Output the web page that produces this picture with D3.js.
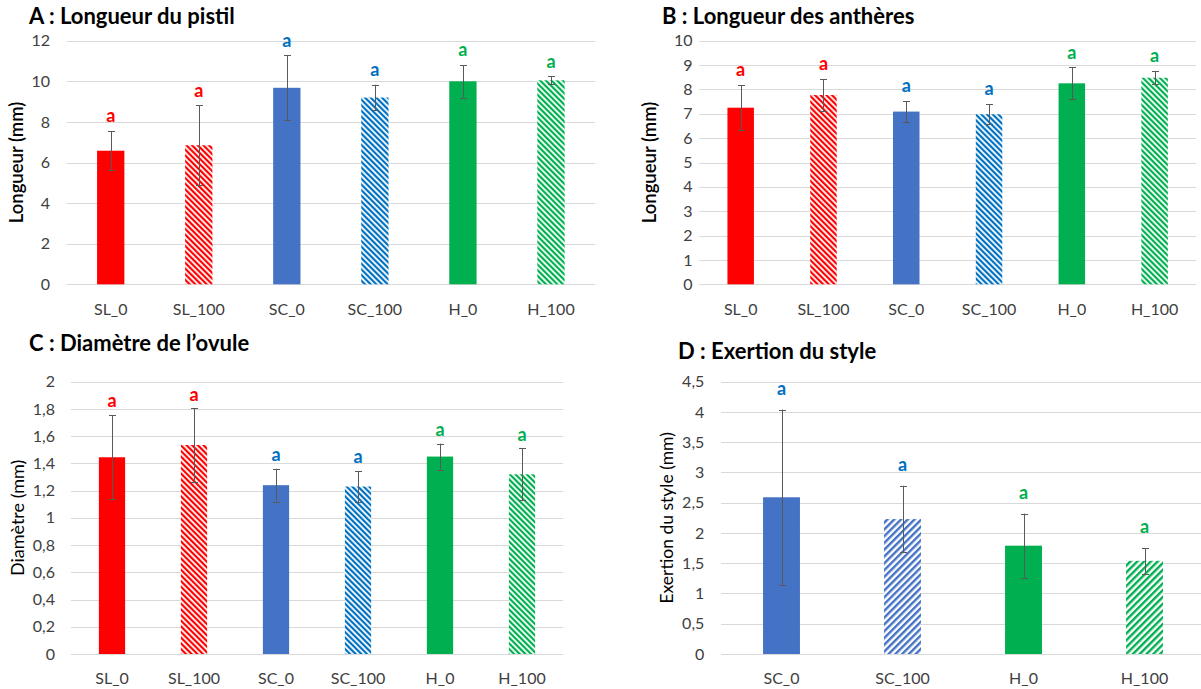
<!DOCTYPE html>
<html>
<head>
<meta charset="utf-8">
<script src="https://cdn.jsdelivr.net/npm/d3@7"></script>
<style>
  body { margin: 0; background: #fff; }
  svg { display: block; font-family: Lato, "Open Sans", sans-serif; }
</style>
</head>
<body>
<svg id="chart" width="1201" height="689"></svg>
<script>
// categories
var catsABC = ["SL_0", "SL_100", "SC_0", "SC_100", "H_0", "H_100"];
var catsD = ["SC_0", "SC_100", "H_0", "H_100"];

// A : longueur du pistil
var pistilMean = [6.58, 6.85, 9.68, 9.2, 10.0, 10.05];
var pistilErr = [0.97, 1.97, 1.6, 0.63, 0.8, 0.2];
var pistilLetters = ["a", "a", "a", "a", "a", "a"];
var pistilTicks = [0, 2, 4, 6, 8, 10, 12];

// B : longueur des antheres
var anthereMean = [7.25, 7.77, 7.09, 6.98, 8.25, 8.48];
var anthereErr = [0.93, 0.65, 0.43, 0.42, 0.66, 0.27];
var anthereLetters = ["a", "a", "a", "a", "a", "a"];
var anthereTicks = [0, 1, 2, 3, 4, 5, 6, 7, 8, 9, 10];

// C : diametre de l'ovule
var ovuleMean = [1.445, 1.535, 1.24, 1.23, 1.45, 1.32];
var ovuleErr = [0.31, 0.27, 0.12, 0.115, 0.095, 0.19];
var ovuleLetters = ["a", "a", "a", "a", "a", "a"];
var ovuleTicks = [0, 0.2, 0.4, 0.6, 0.8, 1, 1.2, 1.4, 1.6, 1.8, 2];

// D : exertion du style
var styleMean = [2.59, 2.23, 1.79, 1.54];
var styleErr = [1.45, 0.55, 0.53, 0.21];
var styleLetters = ["a", "a", "a", "a"];
var styleTicks = [0, 0.5, 1, 1.5, 2, 2.5, 3, 3.5, 4, 4.5];

// couleurs par categorie
var fillColor = {
  SL_0: "#FF0000", SL_100: "#FF0000",
  SC_0: "#4472C4", SC_100: "#0070C0",
  H_0: "#00B050", H_100: "#00B050"
};
var letterColor = {
  SL_0: "#FF0000", SL_100: "#FF0000",
  SC_0: "#0070C0", SC_100: "#0070C0",
  H_0: "#00B050", H_100: "#00B050"
};

var svg = d3.select("#chart");
var defs = svg.append("defs");

// motifs hachures
function makeHatch(id, color, period, sw, angle) {
  var p = defs.append("pattern")
    .attr("id", id)
    .attr("patternUnits", "userSpaceOnUse")
    .attr("width", period)
    .attr("height", period)
    .attr("patternTransform", "rotate(" + angle + ")");
  p.append("rect")
    .attr("width", period).attr("height", period)
    .attr("fill", "#fff");
  p.append("rect")
    .attr("x", 0).attr("y", 0)
    .attr("width", sw).attr("height", period)
    .attr("fill", color);
}
makeHatch("h-red", "#FF0000", 4, 2.2, -45);
makeHatch("h-blue", "#0070C0", 4, 2.2, -45);
makeHatch("h-green", "#00B050", 4, 2.2, -45);
makeHatch("hd-blue", "#4472C4", 4.8, 2.4, 45);
makeHatch("hd-green", "#00B050", 4.8, 2.4, 45);

var fmt = function(v) { return String(v).replace(".", ","); };

function drawPanel(cfg) {
  var g = svg.append("g");

  var x = d3.scaleBand()
    .domain(cfg.cats)
    .range([cfg.left, cfg.right])
    .paddingInner(cfg.pad)
    .paddingOuter(cfg.pad / 2);

  var y = d3.scaleLinear()
    .domain([0, d3.max(cfg.ticks)])
    .range([cfg.bottom, cfg.top]);

  // titre
  g.append("text")
    .attr("x", cfg.titleX).attr("y", cfg.titleY)
    .attr("font-size", 22).attr("font-weight", 700)
    .attr("fill", "#000")
    .text(cfg.title);

  // grille
  g.selectAll(".grid")
    .data(cfg.ticks)
    .enter().append("line")
    .attr("x1", cfg.left).attr("x2", cfg.gridRight)
    .attr("y1", function(d) { return Math.round(y(d)) + 0.5; })
    .attr("y2", function(d) { return Math.round(y(d)) + 0.5; })
    .attr("stroke", "#D9D9D9").attr("stroke-width", 1);

  // axe y
  var yAxis = d3.axisLeft(y).tickValues(cfg.ticks).tickFormat(fmt).tickSize(0).tickPadding(0);
  var ya = g.append("g")
    .attr("transform", "translate(" + cfg.labelRight + ",0)")
    .call(yAxis);
  ya.select(".domain").remove();
  ya.selectAll("text")
    .attr("font-family", "Lato, sans-serif")
    .attr("font-size", 16).attr("fill", "#404040");

  // axe x
  var xAxis = d3.axisBottom(x).tickSize(0).tickPadding(0);
  var xa = g.append("g")
    .attr("transform", "translate(0," + (cfg.bottom + 19) + ")")
    .call(xAxis);
  xa.select(".domain").remove();
  xa.selectAll("text")
    .attr("font-family", "Lato, sans-serif")
    .attr("font-size", 16).attr("fill", "#404040");

  // titre axe y
  g.append("text")
    .attr("transform", "translate(" + cfg.yTitleX + "," + ((cfg.top + cfg.bottom) / 2) + ") rotate(-90)")
    .attr("text-anchor", "middle")
    .attr("dy", "0.35em")
    .attr("font-size", cfg.yTitleSize)
    .attr("font-weight", cfg.yTitleWeight)
    .attr("fill", "#000")
    .text(cfg.yTitle);

  var rows = cfg.cats.map(function(c, i) {
    return { cat: c, mean: cfg.mean[i], err: cfg.err[i], letter: cfg.letters[i] };
  });

  // barres
  g.selectAll(".bar")
    .data(rows)
    .enter().append("rect")
    .attr("x", function(d) { return x(d.cat); })
    .attr("width", x.bandwidth())
    .attr("y", function(d) { return y(d.mean); })
    .attr("height", function(d) { return y(0) - y(d.mean); })
    .attr("fill", function(d) { return cfg.fill(d.cat); });

  // barres d'erreur
  var eb = g.selectAll(".err")
    .data(rows)
    .enter().append("g")
    .attr("stroke", "#595959").attr("stroke-width", 1);
  eb.append("line")
    .attr("x1", function(d) { return Math.round(x(d.cat) + x.bandwidth() / 2) + 0.5; })
    .attr("x2", function(d) { return Math.round(x(d.cat) + x.bandwidth() / 2) + 0.5; })
    .attr("y1", function(d) { return y(d.mean - d.err); })
    .attr("y2", function(d) { return y(d.mean + d.err); });
  [1, -1].forEach(function(s) {
    eb.append("line")
      .attr("x1", function(d) { return Math.round(x(d.cat) + x.bandwidth() / 2) - 3; })
      .attr("x2", function(d) { return Math.round(x(d.cat) + x.bandwidth() / 2) + 4; })
      .attr("y1", function(d) { return Math.round(y(d.mean + s * d.err)) + 0.5; })
      .attr("y2", function(d) { return Math.round(y(d.mean + s * d.err)) + 0.5; });
  });

  // lettres
  g.selectAll(".letter")
    .data(rows)
    .enter().append("text")
    .attr("x", function(d) { return x(d.cat) + x.bandwidth() / 2; })
    .attr("y", function(d) { return y(d.mean + d.err) - cfg.letterGap; })
    .attr("dy", "0.35em")
    .attr("text-anchor", "middle")
    .attr("font-size", 18).attr("font-weight", 700)
    .attr("fill", function(d) { return letterColor[d.cat]; })
    .text(function(d) { return d.letter; });
}

function fillABC(c) {
  if (c === "SL_100") return "url(#h-red)";
  if (c === "SC_100") return "url(#h-blue)";
  if (c === "H_100") return "url(#h-green)";
  return fillColor[c];
}
function fillD(c) {
  if (c === "SC_100") return "url(#hd-blue)";
  if (c === "H_100") return "url(#hd-green)";
  return fillColor[c];
}

drawPanel({
  title: "A : Longueur du pistil", titleX: 29, titleY: 24,
  cats: catsABC, mean: pistilMean, err: pistilErr, letters: pistilLetters, ticks: pistilTicks,
  left: 66.7, right: 595, gridRight: 595, top: 40.7, bottom: 284.3, pad: 0.69,
  labelRight: 50, yTitle: "Longueur (mm)", yTitleX: 17, yTitleWeight: 600, yTitleSize: 18.5,
  letterGap: 15, fill: fillABC
});

drawPanel({
  title: "B : Longueur des anthères", titleX: 662, titleY: 24,
  cats: catsABC, mean: anthereMean, err: anthereErr, letters: anthereLetters, ticks: anthereTicks,
  left: 699.3, right: 1196, gridRight: 1196, top: 40.7, bottom: 284.3, pad: 0.68,
  labelRight: 692.5, yTitle: "Longueur (mm)", yTitleX: 650, yTitleWeight: 600, yTitleSize: 18.5,
  letterGap: 15, fill: fillABC
});

drawPanel({
  title: "C : Diamètre de l\u2019ovule", titleX: 29, titleY: 351,
  cats: catsABC, mean: ovuleMean, err: ovuleErr, letters: ovuleLetters, ticks: ovuleTicks,
  left: 71, right: 563, gridRight: 563, top: 381.7, bottom: 654, pad: 0.68,
  labelRight: 55, yTitle: "Diamètre (mm)", yTitleX: 18, yTitleWeight: 400, yTitleSize: 18,
  letterGap: 14, fill: fillABC
});

drawPanel({
  title: "D : Exertion du style", titleX: 678, titleY: 359,
  cats: catsD, mean: styleMean, err: styleErr, letters: styleLetters, ticks: styleTicks,
  left: 721, right: 1205, gridRight: 1201, top: 381.7, bottom: 654, pad: 0.695,
  labelRight: 704.3, yTitle: "Exertion du style (mm)", yTitleX: 667, yTitleWeight: 400, yTitleSize: 17.5,
  letterGap: 21, fill: fillD
});
</script>
</body>
</html>
